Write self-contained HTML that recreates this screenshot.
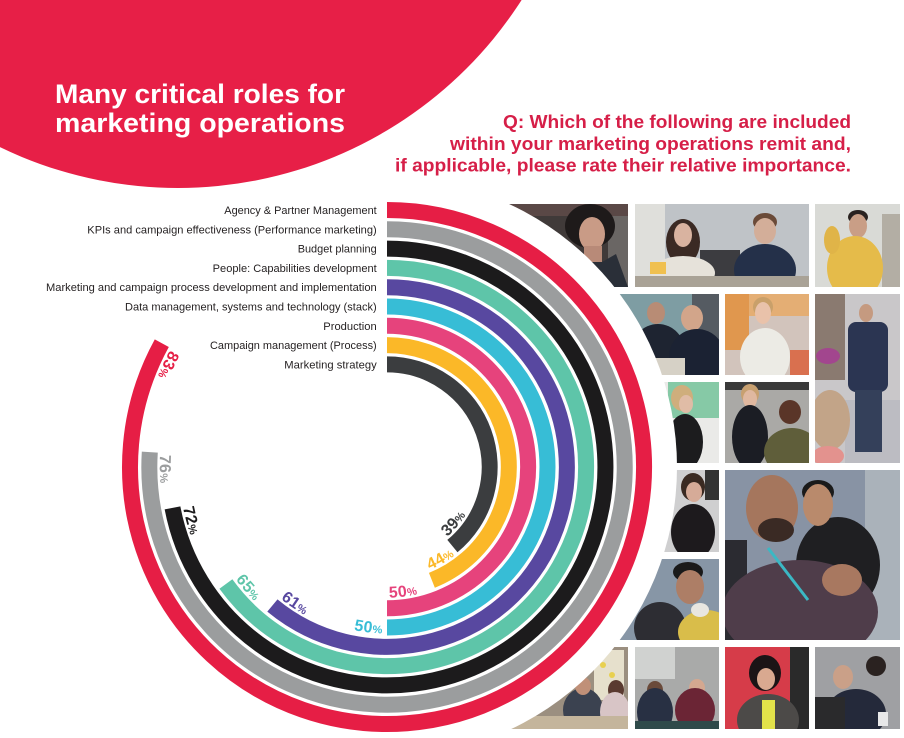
<!DOCTYPE html>
<html>
<head>
<meta charset="utf-8">
<style>
  html, body { margin: 0; padding: 0; background: #ffffff; }
  svg { display: block; }
  .lbl { font-family: "Liberation Sans", Arial, sans-serif; font-size: 11px; fill: #231f20; }
  .pct { font-family: "Liberation Sans", Arial, sans-serif; font-weight: bold; font-size: 16px; letter-spacing: 0.5px; }
</style>
</head>
<body>
<svg width="904" height="738" viewBox="0 0 904 738" xmlns="http://www.w3.org/2000/svg">
  <rect x="0" y="0" width="904" height="738" fill="#ffffff"/>

  <!-- ===== Photo grid ===== -->
  <!-- A -->
  <svg x="470" y="204" width="158" height="83" viewBox="470 204 158 83">
    <rect x="470" y="204" width="158" height="83" fill="#403a39"/>
    <rect x="470" y="204" width="158" height="12" fill="#5a4846"/>
    <rect x="608" y="216" width="20" height="71" fill="#6a6664"/>
    <ellipse cx="590" cy="226" rx="25" ry="22" fill="#1e1a1a"/>
    <ellipse cx="592" cy="234" rx="13" ry="17" fill="#c99b86"/>
    <rect x="584" y="246" width="18" height="20" fill="#b88a78"/>
    <path d="M558 287 L568 256 L588 262 L602 262 L616 254 L628 287 Z" fill="#2a2f38"/>
  </svg>
  <!-- B -->
  <svg x="635" y="204" width="174" height="83" viewBox="635 204 174 83">
    <rect x="635" y="204" width="174" height="83" fill="#bfc3c7"/>
    <rect x="635" y="204" width="30" height="83" fill="#dfdfdb"/>
    <rect x="700" y="250" width="40" height="35" fill="#3c3c40"/>
    <ellipse cx="683" cy="242" rx="17" ry="23" fill="#3b2a24"/>
    <ellipse cx="683" cy="235" rx="9" ry="12" fill="#d9b3a0"/>
    <ellipse cx="683" cy="273" rx="32" ry="17" fill="#e6e2da"/>
    <ellipse cx="765" cy="222" rx="12" ry="9" fill="#6a4a38"/>
    <ellipse cx="765" cy="231" rx="11" ry="13" fill="#d3ae99"/>
    <ellipse cx="765" cy="270" rx="31" ry="26" fill="#243049"/>
    <rect x="635" y="276" width="174" height="11" fill="#a9a296"/>
    <rect x="650" y="262" width="16" height="12" fill="#f0c050"/>
  </svg>
  <!-- C -->
  <svg x="815" y="204" width="85" height="83" viewBox="815 204 85 83">
    <rect x="815" y="204" width="85" height="83" fill="#d9dad6"/>
    <rect x="882" y="214" width="18" height="73" fill="#b3aea4"/>
    <ellipse cx="858" cy="217" rx="10" ry="7" fill="#2a2220"/>
    <ellipse cx="858" cy="226" rx="9" ry="12" fill="#c99e86"/>
    <ellipse cx="855" cy="268" rx="28" ry="32" fill="#e5bb4a"/>
    <ellipse cx="832" cy="240" rx="8" ry="14" fill="#e0b448"/>
  </svg>
  <!-- D -->
  <svg x="470" y="294" width="249" height="81" viewBox="470 294 249 81">
    <rect x="470" y="294" width="249" height="81" fill="#4a5056"/>
    <rect x="470" y="294" width="222" height="42" fill="#7e9da3"/>
    <rect x="692" y="294" width="27" height="81" fill="#555b62"/>
    <ellipse cx="656" cy="313" rx="9" ry="11" fill="#b88c75"/>
    <ellipse cx="658" cy="352" rx="27" ry="28" fill="#1e2431"/>
    <ellipse cx="692" cy="318" rx="11" ry="13" fill="#d2a58a"/>
    <ellipse cx="697" cy="357" rx="28" ry="28" fill="#1b2233"/>
    <rect x="625" y="358" width="60" height="17" fill="#d6d1c6"/>
  </svg>
  <!-- E -->
  <svg x="725" y="294" width="84" height="81" viewBox="725 294 84 81">
    <rect x="725" y="294" width="84" height="81" fill="#d2c4bc"/>
    <rect x="725" y="294" width="24" height="56" fill="#e0974e"/>
    <rect x="749" y="294" width="60" height="22" fill="#e4ae74"/>
    <rect x="790" y="350" width="19" height="25" fill="#d9704f"/>
    <ellipse cx="763" cy="307" rx="10" ry="10" fill="#c9a06a"/>
    <ellipse cx="763" cy="313" rx="8" ry="11" fill="#e9c2aa"/>
    <ellipse cx="765" cy="357" rx="25" ry="29" fill="#ecebe5"/>
  </svg>
  <!-- F -->
  <svg x="815" y="294" width="85" height="169" viewBox="815 294 85 169">
    <rect x="815" y="294" width="85" height="169" fill="#c9c7c9"/>
    <rect x="815" y="294" width="30" height="86" fill="#8a7a70"/>
    <ellipse cx="828" cy="356" rx="12" ry="8" fill="#a2468e"/>
    <rect x="845" y="400" width="55" height="63" fill="#bcbcc2"/>
    <ellipse cx="866" cy="313" rx="7" ry="9" fill="#c59a80"/>
    <rect x="848" y="322" width="40" height="70" rx="8" fill="#2b3552"/>
    <rect x="855" y="390" width="27" height="62" fill="#34405a"/>
    <ellipse cx="830" cy="420" rx="20" ry="30" fill="#c2a488"/>
    <ellipse cx="828" cy="456" rx="16" ry="10" fill="#e3928e"/>
  </svg>
  <!-- G -->
  <svg x="470" y="382" width="249" height="81" viewBox="470 382 249 81">
    <rect x="470" y="382" width="249" height="81" fill="#eaeae8"/>
    <rect x="668" y="382" width="51" height="36" fill="#86c9a6"/>
    <ellipse cx="682" cy="398" rx="11" ry="13" fill="#cfae7c"/>
    <ellipse cx="686" cy="404" rx="7" ry="9" fill="#e0bca6"/>
    <ellipse cx="685" cy="442" rx="18" ry="28" fill="#1c1c1e"/>
  </svg>
  <!-- H -->
  <svg x="725" y="382" width="84" height="81" viewBox="725 382 84 81">
    <rect x="725" y="382" width="84" height="81" fill="#aaa9a6"/>
    <rect x="725" y="382" width="84" height="8" fill="#3a3a3a"/>
    <ellipse cx="750" cy="394" rx="9" ry="10" fill="#c8a070"/>
    <ellipse cx="750" cy="399" rx="7" ry="9" fill="#e0b8a0"/>
    <ellipse cx="750" cy="437" rx="18" ry="32" fill="#1b1d24"/>
    <ellipse cx="790" cy="412" rx="11" ry="12" fill="#5a3528"/>
    <ellipse cx="792" cy="452" rx="28" ry="24" fill="#5f5e3a"/>
  </svg>
  <!-- I -->
  <svg x="470" y="470" width="249" height="82" viewBox="470 470 249 82">
    <rect x="470" y="470" width="249" height="82" fill="#cfcfd0"/>
    <rect x="705" y="470" width="14" height="30" fill="#333333"/>
    <ellipse cx="693" cy="487" rx="12" ry="14" fill="#3a2a22"/>
    <ellipse cx="694" cy="492" rx="8" ry="10" fill="#d6ab98"/>
    <ellipse cx="693" cy="532" rx="22" ry="28" fill="#1d1a1d"/>
  </svg>
  <!-- J -->
  <svg x="725" y="470" width="175" height="170" viewBox="725 470 175 170">
    <rect x="725" y="470" width="175" height="170" fill="#8893a4"/>
    <rect x="865" y="470" width="35" height="170" fill="#aab2ba"/>
    <rect x="725" y="540" width="22" height="100" fill="#2b2b31"/>
    <ellipse cx="838" cy="565" rx="42" ry="48" fill="#1f1f22"/>
    <ellipse cx="818" cy="492" rx="16" ry="12" fill="#1a1a1a"/>
    <ellipse cx="818" cy="505" rx="15" ry="21" fill="#b98a6c"/>
    <ellipse cx="772" cy="508" rx="26" ry="33" fill="#a5765d"/>
    <ellipse cx="776" cy="530" rx="18" ry="12" fill="#3a2a24"/>
    <ellipse cx="800" cy="612" rx="78" ry="52" fill="#4f3d4a"/>
    <ellipse cx="842" cy="580" rx="20" ry="16" fill="#a87860"/>
    <path d="M768 548 L808 600" stroke="#3bb8c4" stroke-width="3" fill="none"/>
  </svg>
  <!-- K -->
  <svg x="470" y="559" width="249" height="81" viewBox="470 559 249 81">
    <rect x="470" y="559" width="249" height="81" fill="#8796a6"/>
    <ellipse cx="660" cy="628" rx="26" ry="26" fill="#2d2d33"/>
    <ellipse cx="688" cy="572" rx="15" ry="10" fill="#1a1a1a"/>
    <ellipse cx="690" cy="587" rx="14" ry="17" fill="#ad7e66"/>
    <ellipse cx="706" cy="632" rx="28" ry="22" fill="#d9bd4a"/>
    <ellipse cx="700" cy="610" rx="9" ry="7" fill="#e8e6e0"/>
  </svg>
  <!-- L -->
  <svg x="470" y="647" width="158" height="82" viewBox="470 647 158 82">
    <rect x="470" y="647" width="158" height="82" fill="#9b8f80"/>
    <rect x="594" y="650" width="30" height="50" fill="#e6e0cc"/>
    <circle cx="603" cy="665" r="3" fill="#e8d050"/>
    <circle cx="612" cy="675" r="3" fill="#e8d050"/>
    <ellipse cx="583" cy="710" rx="20" ry="22" fill="#3b4250"/>
    <ellipse cx="583" cy="686" rx="8" ry="9" fill="#c09078"/>
    <ellipse cx="616" cy="690" rx="8" ry="10" fill="#5a3a30"/>
    <ellipse cx="615" cy="712" rx="15" ry="20" fill="#d8c5c6"/>
    <rect x="500" y="716" width="128" height="13" fill="#c4b59c"/>
  </svg>
  <!-- M -->
  <svg x="635" y="647" width="84" height="82" viewBox="635 647 84 82">
    <rect x="635" y="647" width="84" height="82" fill="#a9aaa9"/>
    <rect x="635" y="647" width="40" height="32" fill="#d0d2d0"/>
    <ellipse cx="655" cy="690" rx="8" ry="9" fill="#6a4a3a"/>
    <ellipse cx="655" cy="712" rx="18" ry="24" fill="#283043"/>
    <ellipse cx="697" cy="688" rx="8" ry="9" fill="#d4a890"/>
    <ellipse cx="695" cy="710" rx="20" ry="22" fill="#6b2535"/>
    <rect x="635" y="721" width="84" height="8" fill="#2f4a4a"/>
  </svg>
  <!-- N -->
  <svg x="725" y="647" width="84" height="82" viewBox="725 647 84 82">
    <rect x="725" y="647" width="84" height="82" fill="#d63c49"/>
    <rect x="790" y="647" width="19" height="82" fill="#2a2a2a"/>
    <ellipse cx="765" cy="673" rx="16" ry="18" fill="#1b1416"/>
    <ellipse cx="766" cy="679" rx="9" ry="11" fill="#d9a990"/>
    <ellipse cx="768" cy="720" rx="31" ry="26" fill="#4c4a48"/>
    <rect x="762" y="700" width="13" height="29" fill="#e2e24a"/>
  </svg>
  <!-- O -->
  <svg x="815" y="647" width="85" height="82" viewBox="815 647 85 82">
    <rect x="815" y="647" width="85" height="82" fill="#9fa0a3"/>
    <ellipse cx="876" cy="666" rx="10" ry="10" fill="#2a2220"/>
    <ellipse cx="843" cy="677" rx="10" ry="12" fill="#caa088"/>
    <ellipse cx="856" cy="714" rx="30" ry="25" fill="#24293a"/>
    <rect x="815" y="697" width="30" height="32" fill="#2a2a2c"/>
    <rect x="878" y="712" width="10" height="14" fill="#e8e8e8"/>
  </svg>

  <!-- white circular cut-out over photos -->
  <circle cx="387" cy="467" r="290" fill="#ffffff"/>

  <!-- ===== Red header blob ===== -->
  <circle cx="178" cy="-220" r="408" fill="#e71f47"/>

  <text x="55" y="103" font-family="Liberation Sans, Arial, sans-serif" font-weight="bold" font-size="27" fill="#ffffff" textLength="290" lengthAdjust="spacingAndGlyphs">Many critical roles for</text>
  <text x="55" y="132" font-family="Liberation Sans, Arial, sans-serif" font-weight="bold" font-size="27" fill="#ffffff" textLength="290" lengthAdjust="spacingAndGlyphs">marketing operations</text>

  <g font-family="Liberation Sans, Arial, sans-serif" font-weight="bold" font-size="18" fill="#d61f48">
    <text x="503" y="128" textLength="348" lengthAdjust="spacingAndGlyphs">Q: Which of the following are included</text>
    <text x="450" y="150" textLength="401" lengthAdjust="spacingAndGlyphs">within your marketing operations remit and,</text>
    <text x="395" y="171.5" textLength="456" lengthAdjust="spacingAndGlyphs">if applicable, please rate their relative importance.</text>
  </g>

  <!-- ===== Rings ===== -->
  <g fill="none" stroke-width="16" stroke-linecap="butt">
    <path d="M387 210 A257 257 0 1 1 161.8 343.2" stroke="#e61e45"/>
    <path d="M387 229.3 A237.7 237.7 0 1 1 149.8 452.1" stroke="#9b9d9e"/>
    <path d="M387 248.6 A218.4 218.4 0 1 1 172.5 507.9" stroke="#1c1b1c"/>
    <path d="M387 267.9 A199.1 199.1 0 1 1 225.9 584.0" stroke="#5ec5a9"/>
    <path d="M387 287.2 A179.8 179.8 0 1 1 272.4 605.5" stroke="#5848a0"/>
    <path d="M387 306.5 A160.5 160.5 0 0 1 387 627.5" stroke="#37bdd6"/>
    <path d="M387 325.8 A141.2 141.2 0 0 1 387 608.2" stroke="#e6437c"/>
    <path d="M387 345.1 A121.9 121.9 0 0 1 431.9 580.3" stroke="#fbb828"/>
    <path d="M387 364.4 A102.6 102.6 0 0 1 452.4 546.1" stroke="#3b3d3f"/>
  </g>

  <!-- ===== Legend labels ===== -->
  <text class="lbl" x="224.3" y="214" textLength="152.4" lengthAdjust="spacingAndGlyphs">Agency &amp; Partner Management</text>
  <text class="lbl" x="87.3" y="233.3" textLength="289.4" lengthAdjust="spacingAndGlyphs">KPIs and campaign effectiveness (Performance marketing)</text>
  <text class="lbl" x="297.7" y="252.6" textLength="79" lengthAdjust="spacingAndGlyphs">Budget planning</text>
  <text class="lbl" x="212.7" y="271.9" textLength="164" lengthAdjust="spacingAndGlyphs">People: Capabilities development</text>
  <text class="lbl" x="46" y="291.2" textLength="330.7" lengthAdjust="spacingAndGlyphs">Marketing and campaign process development and implementation</text>
  <text class="lbl" x="125" y="310.5" textLength="251.7" lengthAdjust="spacingAndGlyphs">Data management, systems and technology (stack)</text>
  <text class="lbl" x="323.3" y="329.8" textLength="53.4" lengthAdjust="spacingAndGlyphs">Production</text>
  <text class="lbl" x="210" y="349.1" textLength="166.7" lengthAdjust="spacingAndGlyphs">Campaign management (Process)</text>
  <text class="lbl" x="284.3" y="368.4" textLength="92.4" lengthAdjust="spacingAndGlyphs">Marketing strategy</text>

  <!-- ===== Percentage label paths ===== -->
  <defs>
    <path id="p1" d="M170.0 350.1 A246.5 246.5 0 0 0 158.0 558.1"/>
    <path id="p2" d="M160.1 454.7 A227.2 227.2 0 0 0 231.8 632.9"/>
    <path id="p3" d="M183.1 507.7 A207.9 207.9 0 0 0 287.2 649.4"/>
    <path id="p4" d="M235.6 579.4 A188.6 188.6 0 0 0 375.8 655.3"/>
    <path id="p5" d="M280.7 598.8 A169.3 169.3 0 0 0 419.6 633.1"/>
    <path id="p6" d="M291.5 603.4 A166.5 166.5 0 0 0 382.6 633.4"/>
    <path id="p7" d="M389.1 597.7 A130.7 130.7 0 0 0 488.4 549.4"/>
    <path id="p8" d="M429.8 569.8 A111.4 111.4 0 0 0 493.3 500.3"/>
    <path id="p9" d="M447.2 536.7 A92.1 92.1 0 0 0 479.1 465.7"/>
  </defs>

  <text class="pct" fill="#e61e45"><textPath href="#p1">83<tspan font-size="11">%</tspan></textPath></text>
  <text class="pct" fill="#9b9d9e"><textPath href="#p2">76<tspan font-size="11">%</tspan></textPath></text>
  <text class="pct" fill="#1c1b1c"><textPath href="#p3">72<tspan font-size="11">%</tspan></textPath></text>
  <text class="pct" fill="#5ec5a9"><textPath href="#p4">65<tspan font-size="11">%</tspan></textPath></text>
  <text class="pct" fill="#5848a0"><textPath href="#p5">61<tspan font-size="11">%</tspan></textPath></text>
  <text class="pct" fill="#37bdd6" text-anchor="end"><textPath href="#p6" startOffset="100%">50<tspan font-size="11">%</tspan></textPath></text>
  <text class="pct" fill="#e6437c"><textPath href="#p7">50<tspan font-size="11">%</tspan></textPath></text>
  <text class="pct" fill="#fbb828"><textPath href="#p8">44<tspan font-size="11">%</tspan></textPath></text>
  <text class="pct" fill="#3b3d3f"><textPath href="#p9">39<tspan font-size="11">%</tspan></textPath></text>
</svg>
</body>
</html>
